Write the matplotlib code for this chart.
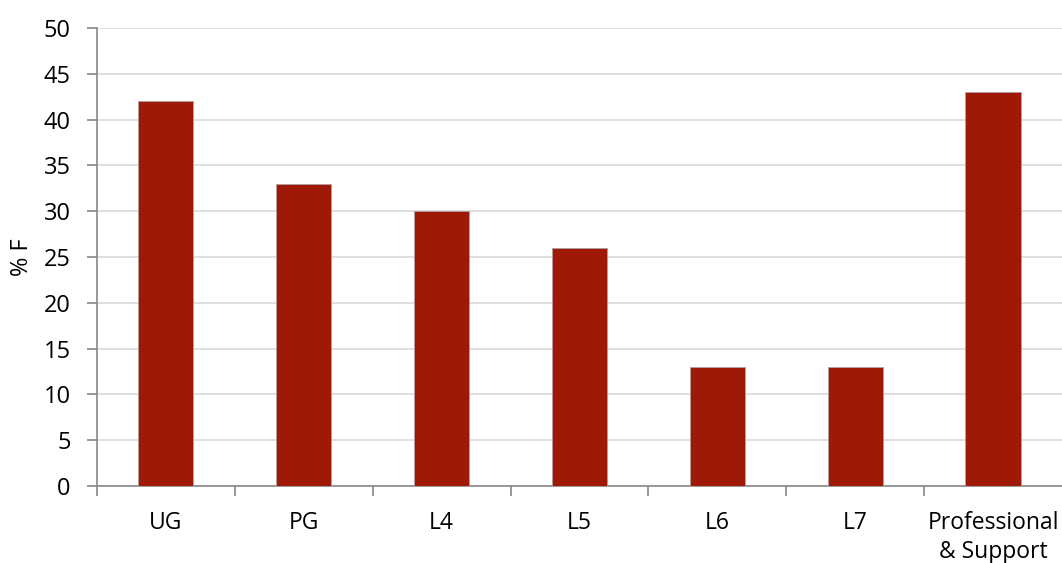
import matplotlib
matplotlib.use("Agg")
import matplotlib.pyplot as plt
import numpy as np

categories = ["UG", "PG", "L4", "L5", "L6", "L7", "Professional\n& Support"]
pct_female = [42, 33, 30, 26, 13, 13, 43]

plt.rcParams["font.family"] = ["Open Sans", "DejaVu Sans"]

fig = plt.figure(figsize=(10.62, 5.63), dpi=100)
ax = fig.add_axes((0.0913, 0.1368, 0.9087, 0.8135))

x = np.arange(len(categories))
ax.bar(x, pct_female, width=0.4, color="#9E1908", edgecolor="#B0A0A0",
       linewidth=0.6, zorder=3)

ax.set_xlim(-0.5, len(categories) - 0.5)
ax.set_ylim(0, 50)
ax.set_yticks(np.arange(0, 51, 5))
ax.yaxis.grid(True, color="#D9D9D9", linewidth=1.2, zorder=0)

# category labels sit between boundary ticks
ax.set_xticks(x)
ax.set_xticklabels(categories, fontsize=16.5, linespacing=1.3)
ax.tick_params(axis="x", length=0, pad=18)
ax.set_xticks(np.arange(len(categories)) - 0.5, minor=True)
ax.tick_params(axis="x", which="minor", length=7, color="#888888", width=1.2)
ax.tick_params(axis="y", labelsize=17, length=7, color="#888888", width=1.2, pad=12)

for side in ("top", "right"):
    ax.spines[side].set_visible(False)
for side in ("left", "bottom"):
    ax.spines[side].set_color("#888888")
    ax.spines[side].set_linewidth(1.2)

ax.set_ylabel("% F", fontsize=17)
ax.yaxis.set_label_coords(-0.065, 0.5)

fig.savefig("out.png", dpi=100)
